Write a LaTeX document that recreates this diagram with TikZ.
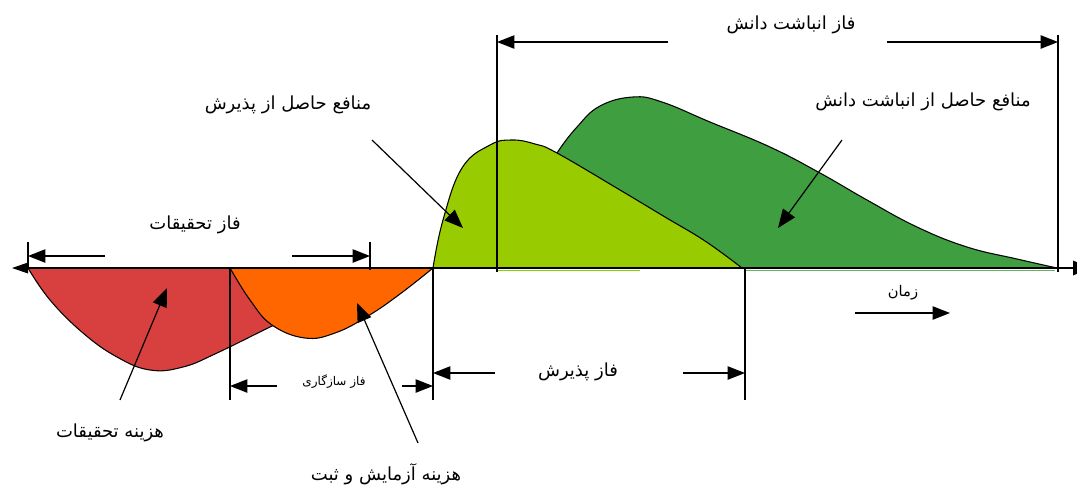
\documentclass[tikz,border=0pt]{standalone}
\usepackage{fontspec}
\usetikzlibrary{arrows.meta}
\newfontfamily\farsifont[Script=Arabic]{DejaVu Sans}
\TeXXeTstate=1
\newcommand{\pers}[1]{\farsifont\beginR #1\endR}
\definecolor{cred}{HTML}{D84040}
\definecolor{corange}{HTML}{FF6600}
\definecolor{clight}{HTML}{99CC00}
\definecolor{cdark}{HTML}{3F9F40}
\tikzset{
  shape line/.style={draw=black, line width=0.8pt, line join=round},
  ln/.style={line width=0.9pt},
  dimarrow/.style={ln, -{Triangle[length=13pt,width=10pt]}},
  lblarrow/.style={ln, -{Triangle[length=14pt,width=11pt]}},
  lbl/.style={inner sep=0pt, font=\fontsize{13.5}{16}\selectfont},
  smalllbl/.style={inner sep=0pt, font=\fontsize{9}{11}\selectfont},
  timelbl/.style={inner sep=0pt, font=\fontsize{11}{13}\selectfont},
}
\begin{document}
\begin{tikzpicture}[x=0.75pt,y=-0.75pt]
\useasboundingbox (0,0) rectangle (1077,486);
\clip (0,0) rectangle (1077,486);
% red cost area
\filldraw[fill=cred, shape line] plot[smooth, tension=0.7] coordinates {(28,268) (50,300) (83,333) (117,357) (150,370) (183,367) (217,353) (270,327) (310,308) (350,285)} -- (350,268) -- cycle;
% orange cost area
\filldraw[fill=corange, shape line] plot[smooth, tension=0.7] coordinates {(230,268) (250,300) (272,325) (305,338) (335,333) (368,316) (400,294) (433,268)} -- cycle;
% dark green benefit area
\filldraw[fill=cdark, shape line] plot[smooth, tension=0.7] coordinates {(545,175) (557,153) (577,127) (600,106) (633,97) (662,102) (710,122) (770,147) (820,173) (867,200) (917,227) (967,247) (1017,259) (1057,268)} -- (560,268) -- cycle;
% light green benefit area
\filldraw[fill=clight, shape line] plot[smooth, tension=0.7] coordinates {(433,268) (443,220) (462,168) (490,145) (512,140) (535,144) (557,153) (620,190) (665,217) (705,241) (742,268)} -- cycle;
% thin green strips under axis
\draw[line width=1.2pt, clight!80!green] (497,270.5) -- (640,270.5);
\draw[line width=1.2pt, cdark!80!white] (745,270.5) -- (1055,270.5);
% time axis
\coordinate (axL) at (28,268);
\coordinate (axR) at (1073,268);
\coordinate (axLtip) at (12,268);
\draw[ln, -{Triangle[length=12pt,width=8pt]}] (axL) -- (axLtip);
\draw[ln] (axL) -- (axR);
\fill (1073,260.5) -- (1090,268) -- (1073,275.5) -- cycle;
% vertical boundary lines
\coordinate (v1t) at (28,242);   \coordinate (v1b) at (28,268);
\coordinate (v2t) at (370,242);  \coordinate (v2b) at (370,270);
\coordinate (v3t) at (230,268);  \coordinate (v3b) at (230,400);
\coordinate (v4t) at (433,268);  \coordinate (v4b) at (433,400);
\coordinate (v5t) at (745,268);  \coordinate (v5b) at (745,400);
\coordinate (v6t) at (497,35);   \coordinate (v6b) at (497,272);
\coordinate (v7t) at (1058,35);  \coordinate (v7b) at (1058,272);
\foreach \a/\b in {v1t/v1b, v2t/v2b, v3t/v3b, v4t/v4b, v5t/v5b, v6t/v6b, v7t/v7b}
  \draw[ln] (\a) -- (\b);
% phase: research
\node[lbl] (tahqiq) at (195,225) {\pers{فاز تحقیقات}};
\coordinate (t1s) at (105,256); \coordinate (t1e) at (28,256);
\coordinate (t2s) at (292,256); \coordinate (t2e) at (370,256);
\draw[dimarrow] (t1s) -- (t1e);
\draw[dimarrow] (t2s) -- (t2e);
% phase: adaptation
\node[smalllbl] (sazgari) at (334,382) {\pers{فاز سازگاری}};
\coordinate (s1s) at (277,386); \coordinate (s1e) at (230,386);
\coordinate (s2s) at (402,386); \coordinate (s2e) at (433,386);
\draw[dimarrow] (s1s) -- (s1e);
\draw[dimarrow] (s2s) -- (s2e);
% phase: adoption
\node[lbl] (paziresh) at (578,372) {\pers{فاز پذیرش}};
\coordinate (p1s) at (495,373); \coordinate (p1e) at (433,373);
\coordinate (p2s) at (683,373); \coordinate (p2e) at (745,373);
\draw[dimarrow] (p1s) -- (p1e);
\draw[dimarrow] (p2s) -- (p2e);
% phase: knowledge accumulation
\node[lbl] (anbasht) at (791,25) {\pers{فاز انباشت دانش}};
\coordinate (a1s) at (668,42); \coordinate (a1e) at (497,42);
\coordinate (a2s) at (887,42); \coordinate (a2e) at (1058,42);
\draw[dimarrow] (a1s) -- (a1e);
\draw[dimarrow] (a2s) -- (a2e);
% labels with pointers
\node[lbl] (manafeP) at (288,105) {\pers{منافع حاصل از پذیرش}};
\coordinate (mPs) at (372,140); \coordinate (mPe) at (463,228);
\draw[lblarrow] (mPs) -- (mPe);
\node[lbl] (manafeA) at (923,102) {\pers{منافع حاصل از انباشت دانش}};
\coordinate (mAs) at (842,140); \coordinate (mAe) at (778,228);
\draw[lblarrow] (mAs) -- (mAe);
\node[lbl] (hazinehT) at (110,433) {\pers{هزینه تحقیقات}};
\coordinate (hTs) at (120,400); \coordinate (hTe) at (167,288);
\draw[lblarrow] (hTs) -- (hTe);
\node[lbl] (hazinehA) at (386,474) {\pers{هزینه آزمایش و ثبت}};
\coordinate (hAs) at (418,443); \coordinate (hAe) at (357,303);
\draw[lblarrow] (hAs) -- (hAe);
% time
\node[timelbl] (zaman) at (903,293) {\pers{زمان}};
\coordinate (zs) at (855,313); \coordinate (ze) at (950,313);
\draw[dimarrow] (zs) -- (ze);
\end{tikzpicture}
\end{document}
